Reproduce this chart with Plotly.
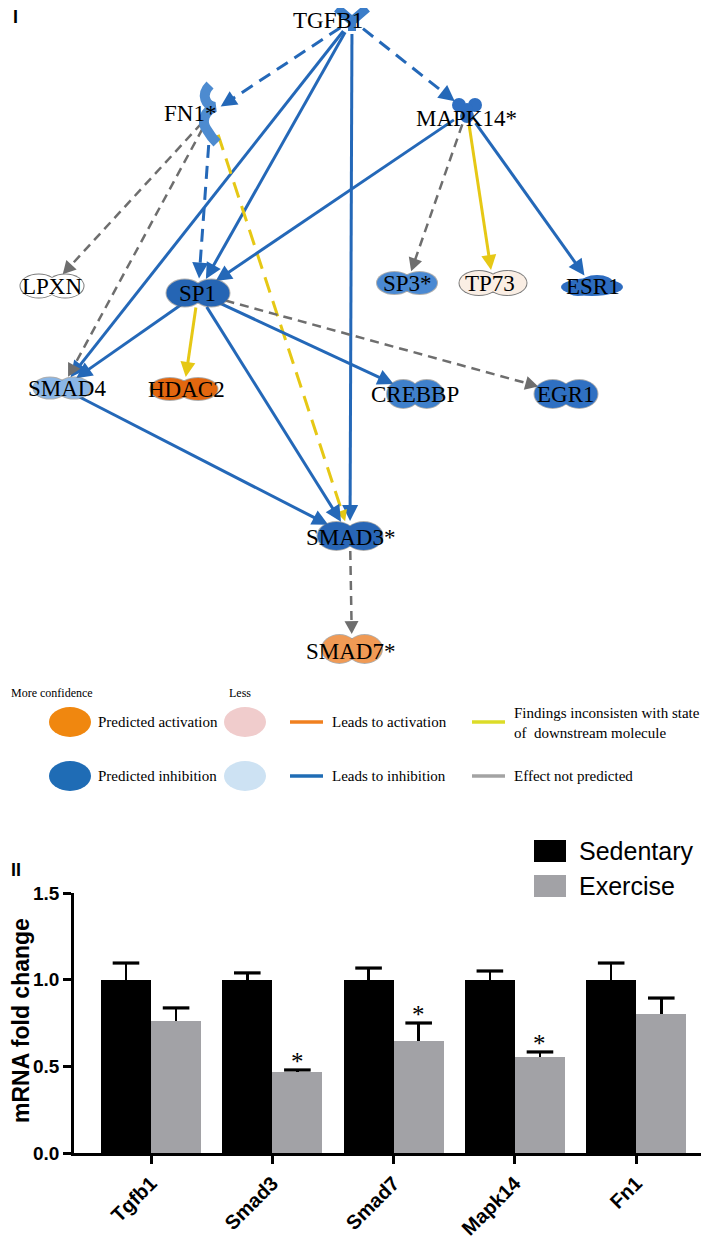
import math
import plotly.graph_objects as go

W, H = 709, 1247          # target window size (pixels)
PAGE_MARGIN = 8           # default body margin of the html page
FW, FH = W - PAGE_MARGIN, H - PAGE_MARGIN

# ---------------- Bar chart data (panel II) ----------------
genes = ["Tgfb1", "Smad3", "Smad7", "Mapk14", "Fn1"]
sedentary = [1.0, 1.0, 1.0, 1.0, 1.0]
sedentary_err = [0.096, 0.039, 0.067, 0.050, 0.096]
exercise = [0.762, 0.467, 0.646, 0.554, 0.802]
exercise_err = [0.075, 0.012, 0.104, 0.029, 0.092]
significant = [False, True, True, True, False]
y_ticks = [0.0, 0.5, 1.0, 1.5]
series_names = ["Sedentary", "Exercise"]
series_colors = ["#000000", "#a2a2a6"]

# ---------------- Network data (panel I) ----------------
node_names = ["TGFB1", "FN1*", "MAPK14*", "LPXN", "SP1", "SP3*", "TP73", "ESR1",
              "SMAD4", "HDAC2", "CREBBP", "EGR1", "SMAD3*", "SMAD7*"]
node_kind = ["growth", "other", "kinase", "tr", "tr", "tr", "tr", "receptor",
             "tr", "tr", "tr", "tr", "tr", "tr"]
node_x = [352, 211, 467, 52, 198, 407, 493, 592, 62, 184, 415, 566, 350, 352]
node_y = [20, 113, 111, 286, 293, 283, 283, 286, 388, 389, 394, 394, 536, 649]
node_rx = [13, 9, 16, 31.5, 31.5, 30, 33.5, 31, 28.5, 33.5, 28, 31.5, 32.5, 30]
node_ry = [13, 32, 13, 11.5, 13.5, 11, 12, 10, 10.5, 11, 14, 14, 14, 14]
node_fill = ["#3b7dc9", "#4d8bd0", "#2f6fc2", "#ffffff", "#2565b4", "#4a89d2",
             "#faeee4", "#2d6cc0", "#8ab6e6", "#e2670f", "#3f80cb", "#2f70c2",
             "#2866b6", "#f09a55"]
label_x = [328, 190, 466, 52, 197, 407, 490, 593, 67, 186, 415, 566, 350, 350]
label_y = [20, 113, 118, 286, 293, 283, 283, 286, 388, 389, 394, 394, 537, 651]

edge_src = ["TGFB1", "TGFB1", "TGFB1", "TGFB1", "TGFB1", "FN1*", "FN1*", "FN1*", "FN1*",
            "MAPK14*", "MAPK14*", "MAPK14*", "MAPK14*", "SP1", "SP1", "SP1", "SP1", "SP1",
            "SMAD4", "SMAD3*"]
edge_tgt = ["FN1*", "MAPK14*", "SMAD4", "SP1", "SMAD3*", "SP1", "LPXN", "SMAD4", "SMAD3*",
            "SP1", "SP3*", "TP73", "ESR1", "SMAD4", "HDAC2", "SMAD3*", "CREBBP", "EGR1",
            "SMAD3*", "SMAD7*"]
edge_style = ["blue_dash", "blue_dash", "blue", "blue", "blue", "blue_dash", "gray_dash",
              "gray_dash", "yellow_dash", "blue", "gray_dash", "yellow", "blue", "blue",
              "yellow", "blue", "blue", "gray_dash", "blue", "gray_dash"]

legend_node_labels = ["Predicted activation", "Predicted inhibition"]
legend_node_strong = ["#f0870f", "#1f6cb5"]
legend_node_weak = ["#f0cccc", "#cde2f3"]
legend_edge_labels = ["Leads to activation", "Leads to inhibition",
                      "Findings inconsisten with state<br>of  downstream molecule",
                      "Effect not predicted"]
legend_edge_colors = ["#f08020", "#1f6cb5", "#dcdc28", "#a3a3a3"]

STYLES = {
    "blue": dict(color="#2468b8", width=3, dash="solid", L=16, Wd=8),
    "blue_dash": dict(color="#2468b8", width=3, dash="13px,8px", L=16, Wd=8),
    "gray_dash": dict(color="#6e6e6e", width=2.5, dash="9px,6px", L=13, Wd=7),
    "yellow": dict(color="#e6c815", width=3, dash="solid", L=15, Wd=7.5),
    "yellow_dash": dict(color="#e6c815", width=3, dash="16px,9px", L=11, Wd=5.5),
}

SERIF = "Liberation Serif, Times New Roman, serif"
SANS = "Liberation Sans, Arial, sans-serif"

fig = go.Figure()
shapes = []
annotations = []

# ---------------- Bar chart ----------------
cat_x = list(range(len(genes)))
bw = 0.413
for vals, errs, color, off in [(sedentary, sedentary_err, series_colors[0], -bw),
                               (exercise, exercise_err, series_colors[1], 0.0)]:
    fig.add_trace(go.Bar(
        x=cat_x, y=vals, width=bw, offset=off,
        marker=dict(color=color, line=dict(width=0)),
        error_y=dict(type="data", array=errs, arrayminus=[0] * len(vals), symmetric=False,
                     color="black", thickness=2.6, width=0),
        xaxis="x", yaxis="y", showlegend=False, hoverinfo="skip"))
    fig.add_trace(go.Scatter(
        x=[c + off + bw / 2 for c in cat_x], y=[v + e for v, e in zip(vals, errs)],
        mode="markers", marker=dict(symbol="line-ew", size=19, color="black",
                                    line=dict(width=3.2, color="black")),
        xaxis="x", yaxis="y", showlegend=False, hoverinfo="skip"))

for c, v, e, s in zip(cat_x, exercise, exercise_err, significant):
    if s:
        annotations.append(dict(x=c + bw / 2, y=v + e, xref="x", yref="y", text="*",
                                showarrow=False, yanchor="bottom", yshift=-7,
                                font=dict(family=SERIF, size=25, color="black")))

# bar legend
for i, (nm, col) in enumerate(zip(series_names, series_colors)):
    y0 = 840 + i * 35
    shapes.append(dict(type="rect", xref="x2", yref="y2", x0=534, x1=566, y0=y0, y1=y0 + 22,
                       fillcolor=col, line=dict(width=0), layer="above"))
    annotations.append(dict(x=577, y=y0 + 11, xref="x2", yref="y2", text=nm, showarrow=False,
                            xanchor="left", yanchor="middle",
                            font=dict(family=SANS, size=25, color="black")))

annotations.append(dict(x=21, y=1021, xref="x2", yref="y2", text="<b>mRNA fold change</b>",
                        showarrow=False, textangle=-90, xanchor="center", yanchor="middle",
                        font=dict(family=SANS, size=23, color="black")))
annotations.append(dict(x=16, y=870, xref="x2", yref="y2", text="<b>II</b>", showarrow=False,
                        font=dict(family=SANS, size=18, color="black")))
annotations.append(dict(x=15, y=17, xref="x2", yref="y2", text="<b>I</b>", showarrow=False,
                        font=dict(family=SANS, size=18, color="black")))

# ---------------- Network ----------------
idx = {n: i for i, n in enumerate(node_names)}


def clip_len(i, ux, uy):
    return 1.0 / math.sqrt((ux / node_rx[i]) ** 2 + (uy / node_ry[i]) ** 2)


arrow_shapes = []
for s, t, st in zip(edge_src, edge_tgt, edge_style):
    i, j = idx[s], idx[t]
    sty = STYLES[st]
    dx, dy = node_x[j] - node_x[i], node_y[j] - node_y[i]
    d = math.hypot(dx, dy)
    ux, uy = dx / d, dy / d
    a = clip_len(i, ux, uy) + 1
    b = clip_len(j, ux, uy) + 1
    sx, sy = node_x[i] + ux * a, node_y[i] + uy * a
    tx, ty = node_x[j] - ux * b, node_y[j] - uy * b
    L, Wd = sty["L"], sty["Wd"]
    bx, by = tx - ux * L, ty - uy * L
    ex, ey = bx + ux * 2, by + uy * 2
    fig.add_trace(go.Scatter(x=[sx, ex], y=[sy, ey], mode="lines",
                             line=dict(color=sty["color"], width=sty["width"], dash=sty["dash"]),
                             xaxis="x2", yaxis="y2", showlegend=False, hoverinfo="skip"))
    nx, ny = -uy, ux
    path = "M {:.2f} {:.2f} L {:.2f} {:.2f} L {:.2f} {:.2f} Z".format(
        tx, ty, bx + nx * Wd, by + ny * Wd, bx - nx * Wd, by - ny * Wd)
    arrow_shapes.append(dict(type="path", xref="x2", yref="y2", path=path,
                             fillcolor=sty["color"], line=dict(width=0), layer="above"))

shapes.extend(arrow_shapes)


def ell(cx, cy, rx, ry, fill, line=None):
    return dict(type="circle", xref="x2", yref="y2", x0=cx - rx, x1=cx + rx,
                y0=cy - ry, y1=cy + ry, fillcolor=fill,
                line=dict(width=0) if line is None else line, layer="above")


def rel_path(cx, cy, pts_cmd):
    out = []
    for tok in pts_cmd:
        if isinstance(tok, str):
            out.append(tok)
        else:
            out.append("{:.1f} {:.1f}".format(cx + tok[0], cy + tok[1]))
    return " ".join(out)


for i, kind in enumerate(node_kind):
    cx, cy, rx, ry, col = node_x[i], node_y[i], node_rx[i], node_ry[i], node_fill[i]
    if kind == "tr":
        lrx = rx * 0.58
        off = rx - lrx
        light = col.lower() in ("#ffffff", "#faeee4")
        oc = "#7a7a7a" if light else "rgba(110,110,110,0.55)"
        for sgn in (-1, 1):
            shapes.append(ell(cx + sgn * off, cy, lrx + 1, ry + 1, oc))
        for sgn in (-1, 1):
            shapes.append(ell(cx + sgn * off, cy, lrx, ry, col))
    elif kind == "growth":
        shapes.append(dict(type="path", xref="x2", yref="y2",
                           path=rel_path(cx, cy, ["M", (-15, -12), "L", (0, 1), "L", (15, -12)]),
                           line=dict(color=col, width=9), layer="above"))
        shapes.append(dict(type="path", xref="x2", yref="y2",
                           path=rel_path(cx, cy, ["M", (0, -4), "L", (0, 11)]),
                           line=dict(color=col, width=8), layer="above"))
    elif kind == "other":
        shapes.append(dict(type="path", xref="x2", yref="y2",
                           path=rel_path(cx, cy, ["M", (-1, -28), "C", (-11, -18), (-5, -7), (4, -6),
                                                  "C", (-7, -2), (-10, 9), (-4, 17),
                                                  "C", (0, 24), (3, 27), (6, 30)]),
                           line=dict(color=col, width=10), layer="above"))
    elif kind == "kinase":
        for (ox, oy, r) in [(-8, -6, 7), (8, -6, 7), (0, 5, 7), (0, -2, 6)]:
            shapes.append(ell(cx + ox, cy + oy, r, r, col))
    elif kind == "receptor":
        shapes.append(ell(cx, cy + 1, rx, ry - 1, col))
        shapes.append(ell(cx + 5, cy - 3, 16, 8, col))
        shapes.append(ell(cx - 14, cy + 3, 12, 7, col))

for i, nm in enumerate(node_names):
    annotations.append(dict(x=label_x[i], y=label_y[i], xref="x2", yref="y2", text=nm,
                            showarrow=False, xanchor="center", yanchor="middle",
                            font=dict(family=SERIF, size=23, color="black")))

# ---------------- Network legend ----------------
annotations.append(dict(x=9, y=693, xref="x2", yref="y2", text="More confidence", showarrow=False,
                        xanchor="left", yanchor="middle",
                        font=dict(family=SERIF, size=12, color="black")))
annotations.append(dict(x=240, y=693, xref="x2", yref="y2", text="Less", showarrow=False,
                        xanchor="center", yanchor="middle",
                        font=dict(family=SERIF, size=12, color="black")))
row_y = [722, 776]
for r, (lab, cs, cw) in enumerate(zip(legend_node_labels, legend_node_strong, legend_node_weak)):
    y = row_y[r]
    shapes.append(ell(70, y, 21, 15, cs))
    shapes.append(ell(245, y, 21, 15, cw))
    annotations.append(dict(x=96, y=y, xref="x2", yref="y2", text=lab, showarrow=False,
                            xanchor="left", yanchor="middle",
                            font=dict(family=SERIF, size=15, color="black")))
edge_leg_pos = [(290, 722), (290, 776), (472, 722), (472, 776)]
for (x0, y), lab, col in zip(edge_leg_pos, legend_edge_labels, legend_edge_colors):
    shapes.append(dict(type="line", xref="x2", yref="y2", x0=x0, x1=x0 + 33, y0=y, y1=y,
                       line=dict(color=col, width=3.5), layer="above"))
    annotations.append(dict(x=x0 + 40, y=y + (1 if "<br>" in lab else 0), xref="x2", yref="y2",
                            text=lab, showarrow=False, xanchor="left", yanchor="middle",
                            align="left",
                            font=dict(family=SERIF, size=15, color="black")))

M = PAGE_MARGIN
fig.update_layout(
    template="none",
    width=FW, height=FH,
    margin=dict(l=0, r=0, t=0, b=0, pad=0, autoexpand=False),
    paper_bgcolor="white", plot_bgcolor="rgba(0,0,0,0)",
    showlegend=False,
    bargap=0, barmode="overlay",
    xaxis=dict(domain=[(74 - M) / FW, 1.0], range=[-0.635, 4.6], anchor="y", automargin=False,
               tickvals=cat_x, ticktext=genes, tickangle=-45,
               ticks="outside", ticklen=8, tickwidth=2.5, tickcolor="black",
               showline=True, linewidth=2.5, linecolor="black",
               showgrid=False, zeroline=False,
               tickfont=dict(family=SANS, size=20, color="black", weight="bold")),
    yaxis=dict(domain=[(H - 1153) / FH, (H - 893) / FH], range=[0, 1.5], anchor="x",
               automargin=False,
               tickvals=y_ticks, ticktext=["{:.1f}".format(v) for v in y_ticks],
               ticks="outside", ticklen=8, tickwidth=2.5, tickcolor="black",
               showline=True, linewidth=2.5, linecolor="black",
               showgrid=False, zeroline=False,
               tickfont=dict(family=SANS, size=19, color="black", weight="bold")),
    xaxis2=dict(domain=[0, 1], range=[M, W], anchor="y2", visible=False, fixedrange=True,
                automargin=False),
    yaxis2=dict(domain=[0, 1], range=[H, M], anchor="x2", visible=False, fixedrange=True,
                automargin=False),
    shapes=shapes,
    annotations=annotations,
)

fig.write_html("out.html")
